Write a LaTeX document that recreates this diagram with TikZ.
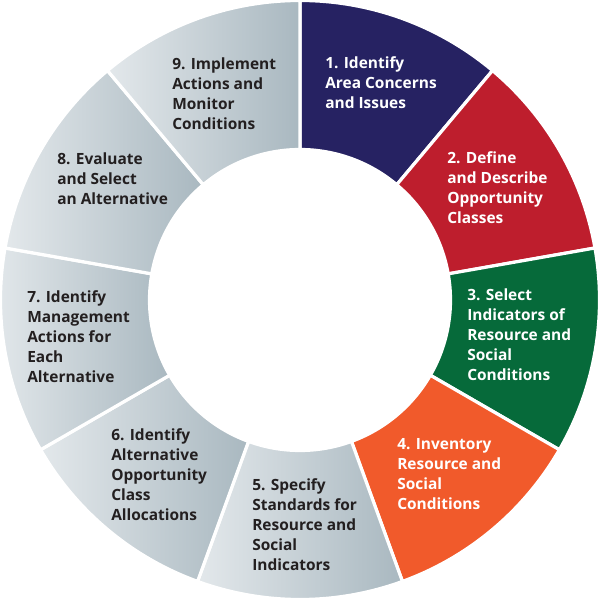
\documentclass[tikz,border=0pt]{standalone}
\usepackage{fontspec}
\setmainfont{Open Sans}
\definecolor{navyseg}{HTML}{262262}
\definecolor{redseg}{HTML}{BE1E2D}
\definecolor{greenseg}{HTML}{066A3A}
\definecolor{orangeseg}{HTML}{F15A2B}
\definecolor{greyL}{HTML}{E3E8EB}
\definecolor{greyD}{HTML}{A9B8C0}
\definecolor{txtdark}{HTML}{231F20}
\begin{document}
\begin{tikzpicture}[x=0.75pt,y=0.75pt,
  seg/.style={draw=white,line width=3.2*0.75pt,line join=miter},
  greyseg/.style={seg,left color=greyL,right color=greyD},
  lbl/.style={anchor=north west,inner sep=0pt,align=left,
    font=\fontsize{11.6}{15}\selectfont\bfseries},
  lblw/.style={lbl,text=white},
  lblk/.style={lbl,text=txtdark}]
\useasboundingbox (0,0) rectangle (600,600);
\coordinate (c) at (300,300);
\def\Ro{299.5}\def\Ri{150.5}
% segments: start angle, end angle (clockwise)
\path[seg,fill=navyseg]   ([shift={(90:\Ro)}]c) arc (90:50:\Ro) -- ([shift={(50:\Ri)}]c) arc (50:90:\Ri) -- cycle;
\path[seg,fill=redseg]    ([shift={(50:\Ro)}]c) arc (50:10:\Ro) -- ([shift={(10:\Ri)}]c) arc (10:50:\Ri) -- cycle;
\path[seg,fill=greenseg]  ([shift={(10:\Ro)}]c) arc (10:-30:\Ro) -- ([shift={(-30:\Ri)}]c) arc (-30:10:\Ri) -- cycle;
\path[seg,fill=orangeseg] ([shift={(-30:\Ro)}]c) arc (-30:-70:\Ro) -- ([shift={(-70:\Ri)}]c) arc (-70:-30:\Ri) -- cycle;
\path[greyseg] ([shift={(-70:\Ro)}]c) arc (-70:-110:\Ro) -- ([shift={(-110:\Ri)}]c) arc (-110:-70:\Ri) -- cycle;
\path[greyseg] ([shift={(-110:\Ro)}]c) arc (-110:-150:\Ro) -- ([shift={(-150:\Ri)}]c) arc (-150:-110:\Ri) -- cycle;
\path[greyseg] ([shift={(-150:\Ro)}]c) arc (-150:-190:\Ro) -- ([shift={(-190:\Ri)}]c) arc (-190:-150:\Ri) -- cycle;
\path[greyseg] ([shift={(170:\Ro)}]c) arc (170:130:\Ro) -- ([shift={(130:\Ri)}]c) arc (130:170:\Ri) -- cycle;
\path[greyseg] ([shift={(130:\Ro)}]c) arc (130:90:\Ro) -- ([shift={(90:\Ri)}]c) arc (90:130:\Ri) -- cycle;
% labels
\node[lblw] (t1) at (325,600-56) {1. Identify\\Area Concerns\\and Issues};
\node[lblw] (t2) at (447,600-151) {2. Define\\and Describe\\Opportunity\\Classes};
\node[lblw] (t3) at (467,600-288) {3. Select\\Indicators of\\Resource and\\Social\\Conditions};
\node[lblw] (t4) at (397,600-438) {4. Inventory\\Resource and\\Social\\Conditions};
\node[lblk] (t5) at (252,600-478) {5. Specify\\Standards for\\Resource and\\Social\\Indicators};
\node[lblk] (t6) at (111,600-428) {6. Identify\\Alternative\\Opportunity\\Class\\Allocations};
\node[lblk] (t7) at (27,600-290) {7. Identify\\Management\\Actions for\\Each\\Alternative};
\node[lblk] (t8) at (57,600-152) {8. Evaluate\\and Select\\an Alternative};
\node[lblk] (t9) at (172,600-57) {9. Implement\\Actions and\\Monitor\\Conditions};
\end{tikzpicture}
\end{document}
